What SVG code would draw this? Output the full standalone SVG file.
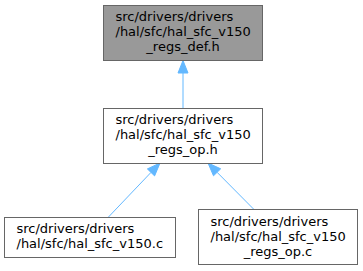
<svg xmlns="http://www.w3.org/2000/svg" width="363" height="271" viewBox="0 0 363 271">
<style>
.box{fill:#ffffff;stroke:#666666;stroke-width:1}
.cur{fill:#999999;stroke:#666666;stroke-width:1}
text{font-family:"DejaVu Sans",sans-serif;font-size:13px;fill:#000000}
.m{text-anchor:middle}
.edge{stroke:#63b8ff;stroke-width:1;fill:none}
.head{fill:#63b8ff;stroke:#63b8ff;stroke-width:1}
</style>
<rect width="363" height="271" fill="#ffffff"/>
<g id="connectors">
<path class="edge" d="M183,108 L183,73"/>
<polygon class="head" points="183,60.5 178,73 188,73"/>
<path class="edge" d="M108,217.5 L151,172.4"/>
<polygon class="head" points="160,163 154.6,175.9 147.4,168.9"/>
<path class="edge" d="M254,209.5 L217.1,172.3"/>
<polygon class="head" points="208,163 220.7,168.8 213.5,175.8"/>
</g>
<g id="node1">
<rect class="cur" x="103.5" y="5.5" width="159" height="55"/>
<text x="115.5" y="20.5">src/drivers/drivers</text>
<text x="115.5" y="35.5">/hal/sfc/hal_sfc_v150</text>
<text class="m" x="183" y="50.5">_regs_def.h</text>
</g>
<g id="node2">
<rect class="box" x="103.5" y="108.5" width="159" height="55"/>
<text x="115.5" y="123.5">src/drivers/drivers</text>
<text x="115.5" y="138.5">/hal/sfc/hal_sfc_v150</text>
<text class="m" x="183" y="153.5">_regs_op.h</text>
</g>
<g id="node3">
<rect class="box" x="4.5" y="217.5" width="171" height="40"/>
<text x="16.5" y="233">src/drivers/drivers</text>
<text x="16.5" y="248">/hal/sfc/hal_sfc_v150.c</text>
</g>
<g id="node4">
<rect class="box" x="198.5" y="209.5" width="159" height="55"/>
<text x="210.5" y="225.5">src/drivers/drivers</text>
<text x="210.5" y="240.5">/hal/sfc/hal_sfc_v150</text>
<text class="m" x="278" y="255.5">_regs_op.c</text>
</g>
</svg>
